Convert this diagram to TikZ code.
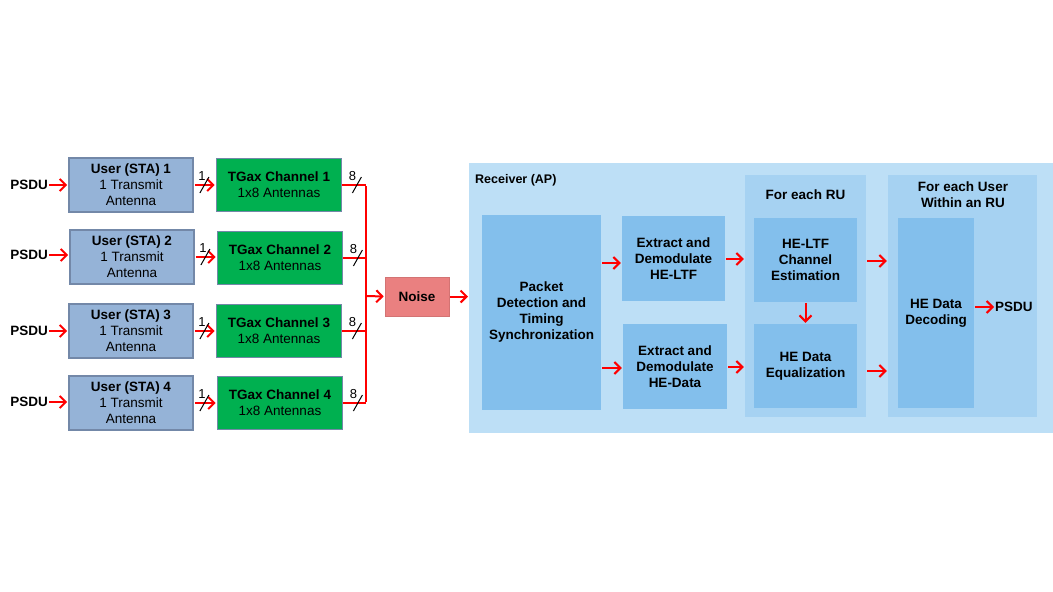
\documentclass[tikz,border=0pt]{standalone}
\usepackage{fontspec}
\setmainfont{Liberation Sans}
\usetikzlibrary{arrows.meta,calc}
\definecolor{ubox}{HTML}{95B3D7}
\definecolor{uedge}{HTML}{7388A8}
\definecolor{gbox}{HTML}{00B050}
\definecolor{nbox}{HTML}{EA8080}
\definecolor{rbg}{HTML}{BDDFF6}
\definecolor{rpan}{HTML}{A6D2F2}
\definecolor{rbox}{HTML}{83BFEC}
\begin{document}
\begin{tikzpicture}[x=1pt,y=-1pt,
  every node/.style={font=\fontsize{13.5}{16}\selectfont, align=center, inner sep=0pt},
  bf/.style={font=\fontsize{13.5}{16}\selectfont\bfseries},
  user/.style={fill=ubox, draw=uedge, line width=1.8pt, minimum width=124pt, minimum height=54pt},
  chan/.style={fill=gbox, draw=uedge, line width=1.8pt, minimum width=125pt, minimum height=53pt},
  rb/.style={fill=rbox, bf},
  arr/.style={draw=red, line width=2pt, -{Straight Barb[length=6pt,width=12pt,line width=2pt]}, shorten <=1pt, shorten >=1pt},
  bus/.style={draw=red, line width=2pt},
  sl/.style={black, line width=1pt}]
\useasboundingbox (0,0) rectangle (1053,592);
\foreach \i/\x/\y in {1/131/185,2/132/257,3/131/331,4/131/403}{
  \node[user] (u\i) at (\x,\y) {\textbf{User (STA) \i}\\1 Transmit\\Antenna};
}
\foreach \i/\x/\y in {1/279/185,2/280/258,3/279/331,4/280/403}{
  \node[chan] (c\i) at (\x,\y) {\textbf{TGax Channel \i}\\1x8 Antennas};
}
\foreach \i/\y in {1/185,2/255,3/331,4/402}{
  \node[bf, anchor=east] (p\i) at (48,\y) {PSDU};
  \draw[arr] (p\i.east) -- (u\i.west |- p\i.east);
}
\foreach \i in {1,2,3,4}{
  \draw[arr] (u\i.east) -- (c\i.west |- u\i.east);
  \draw[sl] ($(u\i.east)+(6,8)$) -- ($(u\i.east)+(15,-8)$);
  \node[font=\fontsize{13}{14}\selectfont] at ($(u\i.east)+(8,-9)$) {1};
}
\coordinate (bt) at (366,186);
\coordinate (bb) at (366,402);
\coordinate (bm) at (366,296);
\foreach \i in {1,2,3,4}{
  \draw[bus] (c\i.east) -- (c\i.east -| bt);
  \draw[sl] ($(c\i.east)+(10,8)$) -- ($(c\i.east)+(19,-8)$);
  \node[font=\fontsize{13}{14}\selectfont] at ($(c\i.east)+(10,-9)$) {8};
}
\draw[bus] (bt) -- (bb);
\node[fill=nbox, draw=nbox!90!black, line width=0.6pt, minimum width=64pt, minimum height=39pt, bf] (noise) at (417,296.5) {Noise};
\draw[arr] (bm) -- (noise.west);
\fill[rbg] (469,163) rectangle (1053,433);
\node[anchor=west, font=\fontsize{12.5}{14}\selectfont\bfseries] (rx) at (475,180) {Receiver (AP)};
\coordinate (rxin) at (469,296.5);
\draw[arr] (noise.east) -- (rxin);
\node[rb, minimum width=119pt, minimum height=195pt] (pd) at (541.5,312.5) {Packet\\Detection and\\Timing\\Synchronization};
\node[rb, minimum width=103pt, minimum height=85pt] (e1) at (673.5,258.5) {Extract and\\Demodulate\\HE-LTF};
\node[rb, minimum width=104pt, minimum height=85pt] (e2) at (675,366.5) {Extract and\\Demodulate\\HE-Data};
\node[fill=rpan, minimum width=121pt, minimum height=242pt] (ru) at (805.5,296) {};
\node[bf] (rut) at (805.5,195) {For each RU};
\node[rb, minimum width=103pt, minimum height=84pt] (ce) at (805.5,260) {HE-LTF\\Channel\\Estimation};
\node[rb, minimum width=103pt, minimum height=84pt] (eq) at (805.5,366) {HE Data\\Equalization};
\node[fill=rpan, minimum width=149pt, minimum height=242pt] (us) at (962.5,296) {};
\node[bf] (ust) at (963,195) {For each User\\Within an RU};
\node[rb, minimum width=76pt, minimum height=190pt] (dec) at (936,313) {HE Data\\Decoding};
\node[anchor=west, bf] (po) at (995,307) {PSDU};
\draw[arr] (pd.east |- 0,263) -- (e1.west |- 0,263);
\draw[arr] (pd.east |- 0,368) -- (e2.west |- 0,368);
\draw[arr] (e1.east |- 0,259) -- (ru.west |- 0,259);
\draw[arr] (e2.east |- 0,367) -- (ru.west |- 0,367);
\draw[arr] (ru.east |- 0,261) -- (us.west |- 0,261);
\draw[arr] (ru.east |- 0,371) -- (us.west |- 0,371);
\draw[arr] (ce.south) -- (eq.north);
\draw[arr] (dec.east |- po.west) -- (po.west);
\end{tikzpicture}
\end{document}
